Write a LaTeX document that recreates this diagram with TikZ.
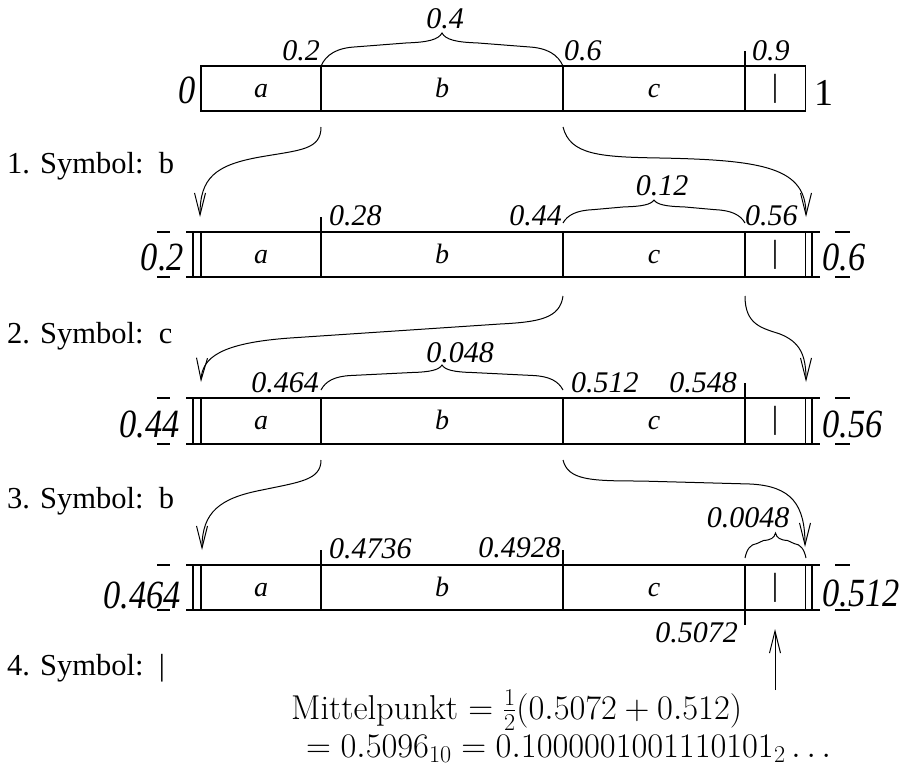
\RequirePackage{fix-cm}
\documentclass[tikz,border=0pt]{standalone}
\usepackage{fontspec}
\newfontfamily\tms{Liberation Serif}
\newfontfamily\tmsc{Liberation Serif}[FakeStretch=0.86]
\usetikzlibrary{arrows.meta}

% curly brace above an interval: x1, x2, baseline y, tip height, end width
\newcommand\curlybrace[5]{%
  \draw[brc] (#1,#3)
    .. controls ({#1+0.15*#5},{#3-0.35*#4}) and ({#1+0.45*#5},{#3-0.55*#4}) .. ({#1+#5},{#3-0.58*#4})
    -- ({(#1+#2)/2-#5},{#3-0.7*#4})
    .. controls ({(#1+#2)/2-0.4*#5},{#3-0.72*#4}) and ({(#1+#2)/2-0.1*#5},{#3-0.8*#4}) .. ({(#1+#2)/2},{#3-#4})
    .. controls ({(#1+#2)/2+0.1*#5},{#3-0.8*#4}) and ({(#1+#2)/2+0.4*#5},{#3-0.72*#4}) .. ({(#1+#2)/2+#5},{#3-0.7*#4})
    -- ({#2-#5},{#3-0.58*#4})
    .. controls ({#2-0.45*#5},{#3-0.55*#4}) and ({#2-0.15*#5},{#3-0.35*#4}) .. (#2,#3);}

% cell contents of one interval bar (top y, bottom y)
\newcommand\cells[2]{%
  \node[cell, anchor=base] at (261,{(#1+#2)/2+8.5}) {a};
  \node[cell, anchor=base] at (442,{(#1+#2)/2+8.5}) {b};
  \node[cell, anchor=base] at (654,{(#1+#2)/2+8.5}) {c};
  \node[barsym] at (775,{(#1+#2)/2}) {|};}

% refined interval bar with double end lines and dashes
\newcommand\subbar[2]{%
  \draw[bar] (186,#1) -- (820,#1) (186,#2) -- (820,#2);
  \draw[bar] (193,#1) -- (193,#2) (201,#1) -- (201,#2)
             (805.5,#1) -- (805.5,#2) (812,#1) -- (812,#2);
  \draw[bar] (321,#1) -- (321,#2) (563,#1) -- (563,#2) (745,#1) -- (745,#2);
  \draw[bar] (157,#1) -- (170,#1) (157,#2) -- (170,#2)
             (835,#1) -- (850,#1) (835,#2) -- (850,#2);
  \cells{#1}{#2}}

\begin{document}
\begin{tikzpicture}[x=1pt,y=-1pt,
  bar/.style={line width=1.1pt},
  brc/.style={line width=1pt},
  arr/.style={line width=1pt,-{Straight Barb[length=22pt,width=11pt,line width=1pt]}},
  lbl/.style={font=\tms\itshape\fontsize{30}{36}\selectfont, inner sep=0pt},
  big/.style={font=\tmsc\itshape\fontsize{40}{46}\selectfont, inner sep=0pt},
  cell/.style={font=\tms\itshape\fontsize{28}{34}\selectfont, inner sep=0pt},
  barsym/.style={font=\tms\fontsize{32}{38}\selectfont, inner sep=0pt},
  sym/.style={font=\tms\fontsize{30.5}{37}\selectfont, inner sep=0pt, anchor=base west},
  mth/.style={font=\fontsize{34.5}{40}\selectfont, inner sep=0pt, anchor=base west}]
\useasboundingbox (0,0) rectangle (902,769);

% ---- interval [0,1)
\draw[bar] (201,66) rectangle (805.5,111);
\draw[bar] (321,66) -- (321,111) (563,66) -- (563,111) (745,51) -- (745,111);
\cells{66}{111}
\node[big, anchor=base east] (l0) at (196,103) {0};
\node[font=\tms\fontsize{38}{46}\selectfont, inner sep=0pt, anchor=base west] (r1) at (814,105) {1};
\node[lbl, anchor=base east] (t02) at (320,60) {0.2};
\node[lbl, anchor=base west] (t06) at (564,60) {0.6};
\node[lbl, anchor=base west] (t09) at (752,60) {0.9};
\curlybrace{321}{563}{66}{33}{35}
\node[lbl, anchor=base] (w04) at (445,28) {0.4};

% ---- interval [0.2,0.6)
\subbar{232}{277}
\draw[bar] (321,217) -- (321,232);
\node[big, anchor=base east] (l2) at (184,270) {0.2};
\node[big, anchor=base west] (r2) at (822,270) {0.6};
\node[lbl, anchor=base west] (t028) at (329,225) {0.28};
\node[lbl, anchor=base east] (t044) at (562,225) {0.44};
\node[lbl, anchor=base west] (t056) at (745,225) {0.56};
\curlybrace{563}{745}{223}{23}{30}
\node[lbl, anchor=base] (w012) at (662,195) {0.12};

% ---- interval [0.44,0.56)
\subbar{398}{444}
\draw[bar] (745,383) -- (745,398);
\node[big, anchor=base east] (l3) at (180,437) {0.44};
\node[big, anchor=base west] (r3) at (822,437) {0.56};
\node[lbl, anchor=base east] (t0464) at (319,392) {0.464};
\node[lbl, anchor=base west] (t0512) at (571,392) {0.512};
\node[lbl, anchor=base east] (t0548) at (737,392) {0.548};
\curlybrace{321}{563}{390}{25}{30}
\node[lbl, anchor=base] (w0048) at (460,362) {0.048};

% ---- interval [0.464,0.512)
\subbar{565}{610}
\draw[bar] (321,550) -- (321,565) (563,550) -- (563,565) (745,610) -- (745,625);
\node[big, anchor=base east] (l4) at (181,608) {0.464};
\node[big, anchor=base west] (r4) at (822,606) {0.512};
\node[lbl, anchor=base west] (t04736) at (329,558) {0.4736};
\node[lbl, anchor=base east] (t04928) at (561,557) {0.4928};
\node[lbl, anchor=base east] (t05072) at (738,642) {0.5072};
\curlybrace{745}{806}{558}{25}{12}
\node[lbl, anchor=base] (w00048) at (748,527) {0.0048};

% ---- steps
\node[sym] (s1) at (7,173) {1. Symbol:\ \ b};
\node[sym] (s2) at (7,343) {2. Symbol:\ \ c};
\node[sym] (s3) at (7,508) {3. Symbol:\ \ b};
\node[sym] (s4) at (7,675) {4. Symbol:\ \ |};

% ---- zoom arrows
\coordinate (a1s) at (321,127);  \coordinate (a1e) at (200,217);
\coordinate (a2s) at (563,127);  \coordinate (a2e) at (806,217);
\coordinate (a3s) at (563,296);  \coordinate (a3e) at (201,382);
\coordinate (a4s) at (745,296);  \coordinate (a4e) at (806,382);
\coordinate (a5s) at (321,460);  \coordinate (a5e) at (202,550);
\coordinate (a6s) at (563,460);  \coordinate (a6e) at (805,547);
\coordinate (a7s) at (775,690);  \coordinate (a7e) at (775,629);

\draw[arr] (a1s) .. controls (321,150) and (300,150) .. (260,157)
                 .. controls (215,165) and (200,178) .. (a1e);
\draw[arr] (a2s) .. controls (570,155) and (600,157) .. (660,158)
                 .. controls (765,160) and (806,168) .. (a2e);
\draw[arr] (a3s) .. controls (560,318) and (540,322) .. (500,324)
                 -- (290,338) .. controls (220,343) and (202,358) .. (a3e);
\draw[arr] (a4s) .. controls (745,325) and (762,328) .. (780,334)
                 .. controls (800,342) and (806,355) .. (a4e);
\draw[arr] (a5s) .. controls (321,480) and (300,482) .. (262,490)
                 .. controls (220,498) and (202,512) .. (a5e);
\draw[arr] (a6s) .. controls (568,480) and (590,481) .. (640,481)
                 -- (750,484) .. controls (792,486) and (805,505) .. (a6e);
\draw[arr] (a7s) -- (a7e);

% ---- midpoint
\node[mth] (mid) at (291,719) {Mittelpunkt $=\frac{1}{2}(0.5072+0.512)$};
\node[mth] (bin) at (306,757) {$=0.5096_{10}=0.1000001001110101_2\ldots$};
\end{tikzpicture}
\end{document}
